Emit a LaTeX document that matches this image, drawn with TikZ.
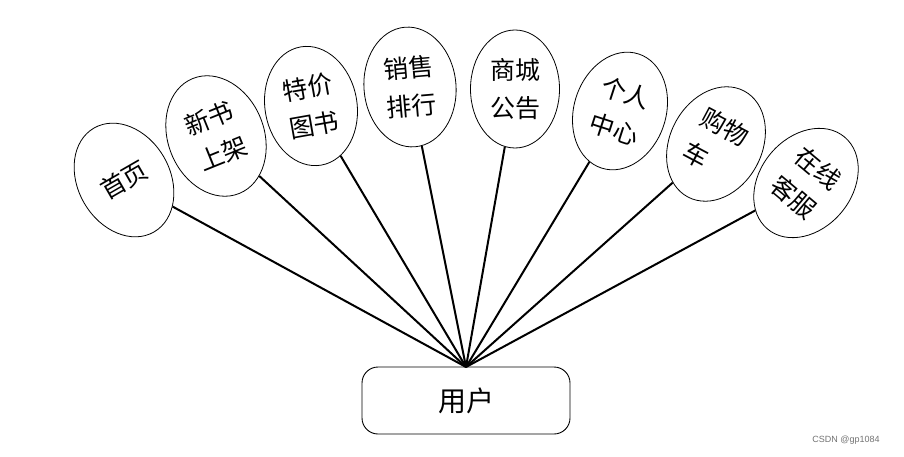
\documentclass[tikz,border=0pt]{standalone}
\usepackage{fontspec}
\newfontfamily\cjk{Noto Sans CJK SC}
\newfontfamily\wm{Liberation Sans}
\usetikzlibrary{shapes.geometric}
\tikzset{
  func/.style={draw, line width=0.8pt, ellipse, minimum width=92pt, minimum height=120pt,
    inner sep=0pt, align=center, font=\cjk\fontsize{25}{38}\selectfont},
  conn/.style={line width=2pt},
  userbox/.style={draw, line width=0.9pt, rounded corners=16pt, minimum width=208pt,
    minimum height=67pt, font=\cjk\fontsize{28}{32}\selectfont}
}
\begin{document}
\begin{tikzpicture}[x=1pt,y=-1pt]
\useasboundingbox[fill=white] (0,0) rectangle (904,457);
\node[userbox] (user) at (466,400.5) {用户};
\coordinate (u) at (466,367);
\node[func, rotate=30] (e1) at (124,180) {首页};
\node[func, rotate=22, minimum width=96pt, minimum height=124pt] (e2) at (216,136) {新书\\上架};
\node[func, rotate=10] (e3) at (311,106) {特价\\图书};
\node[func, rotate=5] (e4) at (410,87) {销售\\排行};
\node[func, rotate=0, minimum width=89pt, minimum height=118pt] (e5) at (515,89) {商城\\公告};
\node[func, rotate=-18] (e6) at (620,111) {个人\\中心};
\node[func, rotate=-28, align=left] (e7) at (716,144) {购物\\车};
\node[func, rotate=-40] (e8) at (806,183) {在线\\客服};
\foreach \e in {e1,e2,e3,e4,e5,e6,e7,e8}{\draw[conn] (u) -- (\e);}
\node[font=\wm\fontsize{9}{10}\selectfont, text=black!55] (wm) at (846,440) {CSDN @gp1084};
\end{tikzpicture}
\end{document}
